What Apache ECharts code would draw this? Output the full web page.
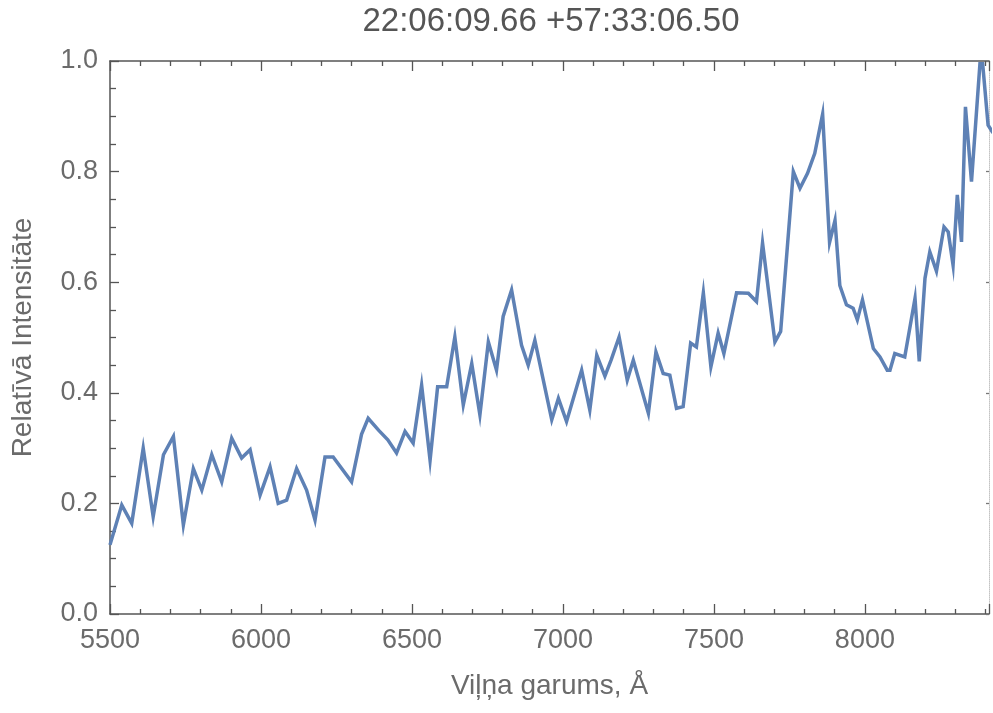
<!DOCTYPE html>
<html>
<head>
<meta charset="utf-8">
<script src="https://cdn.jsdelivr.net/npm/echarts@6/dist/echarts.min.js"></script>
<style>
  html, body { margin: 0; padding: 0; background: #ffffff; }
  #chart { width: 993px; height: 713px; }
</style>
</head>
<body>
<div id="chart"></div>
<script>
// Spectrum of 22:06:09.66 +57:33:06.50 — wavelength (Å) and relative intensity
const wavelength = [
  5500, 5539, 5572, 5610, 5643, 5677, 5710, 5743, 5776, 5804,
  5837, 5870, 5903, 5936, 5964, 5997, 6030, 6057, 6085, 6118,
  6151, 6179, 6212, 6239, 6300, 6333, 6355, 6390, 6420, 6449,
  6477, 6504, 6532, 6560, 6585, 6615, 6642, 6670, 6698, 6725,
  6753, 6780, 6802, 6830, 6863, 6885, 6907, 6963, 6985, 7012,
  7062, 7089, 7112, 7139, 7160, 7186, 7213, 7233, 7283, 7308,
  7332, 7354, 7376, 7398, 7423, 7442, 7465, 7490, 7514, 7533,
  7575, 7614, 7641, 7661, 7702, 7721, 7763, 7785, 7810, 7834,
  7860, 7883, 7901, 7917, 7939, 7961, 7975, 7992, 8028, 8050,
  8074, 8083, 8099, 8132, 8166, 8180, 8199, 8215, 8237, 8262,
  8276, 8292, 8306, 8320, 8333, 8353, 8381, 8390, 8408, 8424
];
const intensity = [
  0.125, 0.197, 0.164, 0.300, 0.176, 0.288, 0.321, 0.161, 0.263, 0.224,
  0.288, 0.239, 0.318, 0.282, 0.297, 0.215, 0.266, 0.200, 0.206, 0.263,
  0.224, 0.170, 0.284, 0.284, 0.239, 0.325, 0.354, 0.332, 0.315, 0.291,
  0.330, 0.309, 0.414, 0.278, 0.411, 0.411, 0.501, 0.378, 0.453, 0.360,
  0.492, 0.441, 0.538, 0.586, 0.486, 0.450, 0.495, 0.351, 0.390, 0.348,
  0.441, 0.369, 0.468, 0.430, 0.460, 0.501, 0.423, 0.459, 0.363, 0.474,
  0.435, 0.432, 0.372, 0.375, 0.490, 0.483, 0.581, 0.447, 0.508, 0.471,
  0.581, 0.580, 0.565, 0.671, 0.492, 0.511, 0.800, 0.770, 0.797, 0.833,
  0.904, 0.672, 0.712, 0.594, 0.559, 0.553, 0.532, 0.568, 0.480, 0.465,
  0.441, 0.441, 0.471, 0.465, 0.571, 0.457, 0.607, 0.655, 0.620, 0.700,
  0.691, 0.631, 0.758, 0.673, 0.917, 0.782, 0.995, 0.995, 0.884, 0.870
];
const xTicks = [5500, 6000, 6500, 7000, 7500, 8000];
const yTicks = [0.0, 0.2, 0.4, 0.6, 0.8, 1.0];
const titleText = '22:06:09.66 +57:33:06.50';
const xName = 'Viļņa garums, Å';
const yName = 'Relatīvā Intensitāte';

const FONT = '"Liberation Sans", Arial, sans-serif';
const FRAME = '#555555';
const LABEL = '#6b6b6b';

const points = wavelength.map((w, i) => [w, intensity[i]]);

const chart = echarts.init(document.getElementById('chart'), null, { renderer: 'canvas' });

const frameTicks = {
  axisLine: { show: true, onZero: false, lineStyle: { color: FRAME, width: 1.5 } },
  axisTick: { show: true, inside: true, length: 10, lineStyle: { color: FRAME, width: 1.3 } },
  minorTick: { show: true, splitNumber: 5, length: 5, lineStyle: { color: FRAME, width: 1.3 } },
  splitLine: { show: false },
  minorSplitLine: { show: false }
};

chart.setOption({
  backgroundColor: '#ffffff',
  animation: false,
  title: {
    text: titleText,
    left: 546,
    top: 0,
    textAlign: 'center',
    textStyle: { fontFamily: FONT, fontSize: 33, fontWeight: 'normal', color: '#555555' }
  },
  grid: { left: 110, right: 4, top: 61, bottom: 99, containLabel: false },
  xAxis: [
    Object.assign({
      type: 'value',
      min: xTicks[0],
      max: 8411,
      interval: 500,
      position: 'bottom',
      name: xName,
      nameLocation: 'middle',
      nameGap: 58,
      nameTextStyle: { fontFamily: FONT, fontSize: 28, color: LABEL },
      axisLabel: {
        showMaxLabel: false,
        margin: 13,
        fontFamily: FONT, fontSize: 27, color: LABEL,
        formatter: v => String(v)
      }
    }, frameTicks),
    Object.assign({
      type: 'value',
      min: xTicks[0],
      max: 8411,
      interval: 500,
      position: 'top',
      axisLabel: { show: false }
    }, frameTicks)
  ],
  yAxis: [
    Object.assign({}, frameTicks, {
      type: 'value',
      min: yTicks[0],
      max: yTicks[yTicks.length - 1],
      interval: 0.2,
      position: 'left',
      name: yName,
      nameLocation: 'middle',
      nameGap: 73,
      nameTextStyle: { fontFamily: FONT, fontSize: 28, color: LABEL },
      axisTick: { show: true, inside: true, length: 9, lineStyle: { color: FRAME, width: 1.3 } },
      minorTick: { show: true, splitNumber: 4, length: 6, lineStyle: { color: FRAME, width: 1.3 } },
      axisLabel: {
        margin: 12,
        fontFamily: FONT, fontSize: 27, color: LABEL,
        formatter: v => v.toFixed(1)
      }
    }),
    {
      type: 'value',
      min: yTicks[0],
      max: yTicks[yTicks.length - 1],
      interval: 0.2,
      position: 'right',
      axisLine: { show: true, lineStyle: { color: '#c4c4c4', width: 1, type: 'dotted' } },
      axisTick: { show: true, inside: true, length: 3, lineStyle: { color: '#777777', width: 1.3 } },
      axisLabel: { show: false },
      splitLine: { show: false }
    }
  ],
  series: [{
    type: 'line',
    xAxisIndex: 0,
    yAxisIndex: 0,
    data: points,
    showSymbol: false,
    clip: false,
    lineStyle: { color: '#5E81B5', width: 3.5, join: 'miter' },
    itemStyle: { color: '#5E81B5' }
  }]
});
</script>
</body>
</html>
